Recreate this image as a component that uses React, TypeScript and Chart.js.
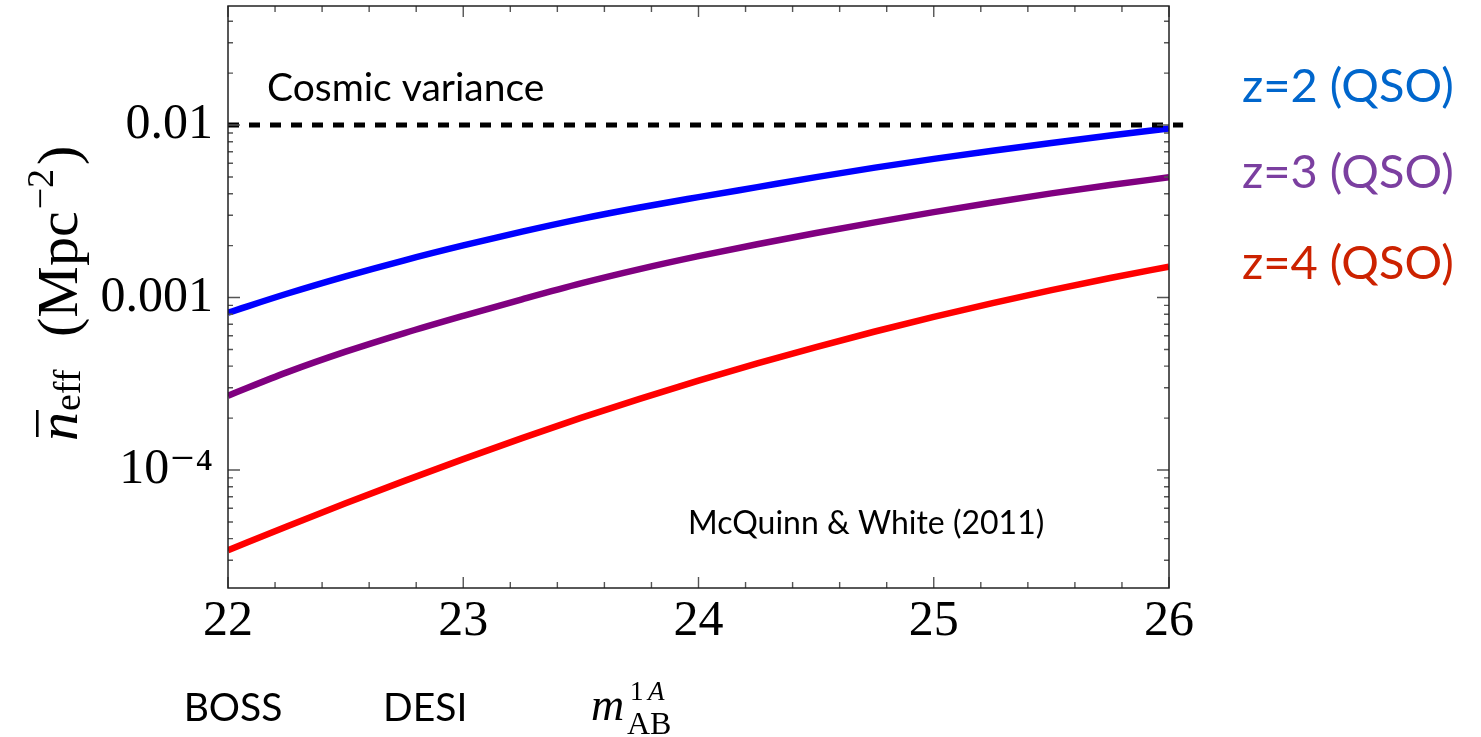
import React, { useEffect, useRef } from "react";
import { Chart, registerables } from "chart.js";

Chart.register(...registerables);

// ---------- data ----------
const magnitudes = [22, 22.25, 22.5, 22.75, 23, 23.25, 23.5, 23.75, 24, 24.25, 24.5, 24.75, 25, 25.25, 25.5, 25.75, 26];
const nEffZ2 = [8.17e-4, 1.052e-3, 1.327e-3, 1.644e-3, 2.004e-3, 2.41e-3, 2.858e-3, 3.327e-3, 3.819e-3, 4.365e-3, 4.989e-3, 5.662e-3, 6.368e-3, 7.096e-3, 7.87e-3, 8.69e-3, 9.55e-3];
const nEffZ3 = [2.698e-4, 3.681e-4, 4.853e-4, 6.223e-4, 7.834e-4, 9.772e-4, 1.208e-3, 1.462e-3, 1.738e-3, 2.037e-3, 2.366e-3, 2.729e-3, 3.126e-3, 3.556e-3, 4.018e-3, 4.487e-3, 4.977e-3];
const nEffZ4 = [3.428e-5, 4.71e-5, 6.412e-5, 8.65e-5, 1.156e-4, 1.531e-4, 2.004e-4, 2.588e-4, 3.296e-4, 4.15e-4, 5.164e-4, 6.353e-4, 7.727e-4, 9.29e-4, 1.104e-3, 1.297e-3, 1.51e-3];
const cosmicVarianceLevel = 0.01;
const cosmicVarianceRange = [22, 26.06];
const seriesNames = ["z=2 (QSO)", "z=3 (QSO)", "z=4 (QSO)"];
const surveyLabels = ["BOSS", "DESI"];

const xMin = 22;
const xMax = 26;
const yMin = 2.07e-5;
const yMax = 0.049;
const xMajorTicks = [22, 23, 24, 25, 26];
const xTickLabels = ["22", "23", "24", "25", "26"];
const xMinorStep = 0.2;
const yMajorTicks = [1e-4, 1e-3, 1e-2];
const yTickLabels = ["10\u207B\u2074", "0.001", "0.01"];

// ---------- styles ----------
const lineColors = ["#0000ff", "#800080", "#ff0000"];
const labelColors = ["#0066cc", "#7b3fa0", "#cc2200"];
const SERIF = '"Liberation Serif", "DejaVu Serif", serif';
const SANS = 'Lato, "Open Sans", sans-serif';

function buildXTicks(): { v: number; major: boolean }[] {
  const out: { v: number; major: boolean }[] = [];
  const n = Math.round((xMax - xMin) / xMinorStep);
  for (let i = 0; i <= n; i++) {
    const v = Number((xMin + i * xMinorStep).toFixed(4));
    out.push({ v, major: xMajorTicks.includes(v) });
  }
  return out;
}

function buildYTicks(): { v: number; major: boolean }[] {
  const out: { v: number; major: boolean }[] = [];
  for (let e = -6; e <= -1; e++) {
    for (let m = 1; m <= 9; m++) {
      const v = Number((m * Math.pow(10, e)).toPrecision(3));
      if (v >= yMin && v <= yMax) out.push({ v, major: m === 1 });
    }
  }
  return out;
}

const frameTicksPlugin = {
  id: "frameTicks",
  afterDraw(chart: any) {
    const ctx = chart.ctx as CanvasRenderingContext2D;
    const { left, right, top, bottom } = chart.chartArea;
    const xs = chart.scales.x;
    const ys = chart.scales.y;
    ctx.save();
    ctx.strokeStyle = "#555";
    ctx.lineWidth = 1.4;
    ctx.beginPath();
    for (const t of buildXTicks()) {
      const px = xs.getPixelForValue(t.v);
      const len = t.major ? 11 : 6;
      ctx.moveTo(px, bottom);
      ctx.lineTo(px, bottom - len);
      ctx.moveTo(px, top);
      ctx.lineTo(px, top + len);
    }
    for (const t of buildYTicks()) {
      const py = ys.getPixelForValue(t.v);
      const len = t.major ? 12 : 5;
      ctx.moveTo(left, py);
      ctx.lineTo(left + len, py);
      ctx.moveTo(right, py);
      ctx.lineTo(right - len, py);
    }
    ctx.stroke();
    ctx.strokeStyle = "#222";
    ctx.lineWidth = 1.5;
    ctx.strokeRect(left, top, right - left, bottom - top);
    ctx.restore();
  },
};

const annotationPlugin = {
  id: "annotations",
  afterDraw(chart: any) {
    const ctx = chart.ctx as CanvasRenderingContext2D;
    const xs = chart.scales.x;
    ctx.save();
    ctx.textBaseline = "alphabetic";
    ctx.textAlign = "left";

    // Cosmic variance label
    ctx.fillStyle = "#000";
    ctx.font = `39px ${SANS}`;
    ctx.fillText("Cosmic variance", 267, 101);

    // Reference
    ctx.font = `32px ${SANS}`;
    ctx.fillText("McQuinn & White (2011)", 688, 534);

    // Series labels
    const baselines = [102, 188, 279];
    ctx.font = `47px ${SANS}`;
    seriesNames.forEach((name, i) => {
      ctx.fillStyle = labelColors[i];
      ctx.fillText(name, 1242, baselines[i]);
    });

    // Survey labels under the axis
    ctx.fillStyle = "#000";
    ctx.font = `39px ${SANS}`;
    ctx.textAlign = "center";
    ctx.fillText(surveyLabels[0], xs.getPixelForValue(22.0) + 5, 721);
    ctx.fillText(surveyLabels[1], xs.getPixelForValue(23.0) - 38, 721);

    // x-axis title m_AB^{1A}
    ctx.textAlign = "left";
    ctx.font = `italic 46px ${SERIF}`;
    ctx.fillText("m", 591, 720);
    ctx.font = `32px ${SERIF}`;
    ctx.fillText("AB", 627, 734);
    ctx.font = `27px ${SERIF}`;
    ctx.fillText("1", 630, 700);
    ctx.font = `italic 27px ${SERIF}`;
    ctx.fillText("A", 648, 700);

    // y-axis title  n̄_eff (Mpc^-2)
    ctx.translate(77, 441);
    ctx.rotate(-Math.PI / 2);
    ctx.font = `italic 58px ${SERIF}`;
    ctx.fillText("n", 0, 0);
    const nW = ctx.measureText("n").width;
    ctx.fillRect(4, -41, nW - 2, 2.6);
    ctx.font = `38px ${SERIF}`;
    ctx.fillText("eff", nW + 1, 3);
    ctx.font = `58px ${SERIF}`;
    const startX = 104;
    ctx.fillText("(Mpc", startX, 0);
    const w1 = ctx.measureText("(Mpc").width;
    ctx.font = `38px ${SERIF}`;
    ctx.fillText("\u22122", startX + w1 + 2, -24);
    const w2 = ctx.measureText("\u22122").width;
    ctx.font = `58px ${SERIF}`;
    ctx.fillText(")", startX + w1 + w2 + 6, 0);
    ctx.restore();
  },
};

export default function App() {
  const canvasRef = useRef<HTMLCanvasElement | null>(null);

  useEffect(() => {
    document.body.style.margin = "0";
    const canvas = canvasRef.current;
    if (!canvas) return;

    const mk = (vals: number[]) => magnitudes.map((m, i) => ({ x: m, y: vals[i] }));

    const chart = new Chart(canvas, {
      type: "line",
      data: {
        datasets: [
          {
            label: "Cosmic variance",
            data: cosmicVarianceRange.map((x) => ({ x, y: cosmicVarianceLevel })),
            borderColor: "#000",
            borderWidth: 5,
            borderDash: [11, 10],
            pointRadius: 0,
            clip: false as any,
          },
          {
            label: seriesNames[0],
            data: mk(nEffZ2),
            borderColor: lineColors[0],
            borderWidth: 6.5,
            pointRadius: 0,
            cubicInterpolationMode: "monotone",
          },
          {
            label: seriesNames[1],
            data: mk(nEffZ3),
            borderColor: lineColors[1],
            borderWidth: 6.5,
            pointRadius: 0,
            cubicInterpolationMode: "monotone",
          },
          {
            label: seriesNames[2],
            data: mk(nEffZ4),
            borderColor: lineColors[2],
            borderWidth: 6.5,
            pointRadius: 0,
            cubicInterpolationMode: "monotone",
          },
        ],
      },
      options: {
        responsive: false,
        animation: false,
        devicePixelRatio: 1,
        layout: { padding: { top: 6, right: 312, left: 0, bottom: 0 } },
        plugins: {
          legend: { display: false },
          tooltip: { enabled: false },
        },
        scales: {
          x: {
            type: "linear",
            min: xMin,
            max: xMax,
            grid: { display: false, drawTicks: false },
            border: { display: false },
            afterBuildTicks: (scale: any) => {
              scale.ticks = xMajorTicks.map((v) => ({ value: v }));
            },
            afterFit: (scale: any) => {
              scale.height = 149;
            },
            ticks: {
              autoSkip: false,
              maxRotation: 0,
              padding: 4,
              color: "#000",
              font: { family: SERIF, size: 50 },
              callback: (v: any) => {
                const i = xMajorTicks.indexOf(Number(v));
                return i >= 0 ? xTickLabels[i] : "";
              },
            },
          },
          y: {
            type: "logarithmic",
            min: yMin,
            max: yMax,
            grid: { display: false, drawTicks: false },
            border: { display: false },
            afterBuildTicks: (scale: any) => {
              scale.ticks = yMajorTicks.map((v) => ({ value: v }));
            },
            afterFit: (scale: any) => {
              scale.width = 228;
              scale.paddingTop = 0;
              scale.paddingBottom = 0;
            },
            ticks: {
              autoSkip: false,
              padding: 15,
              color: "#000",
              font: { family: SERIF, size: 50 },
              callback: (v: any) => {
                const i = yMajorTicks.findIndex((t) => Math.abs(t - Number(v)) / t < 1e-6);
                return i >= 0 ? yTickLabels[i] : "";
              },
            },
          },
        },
      },
      plugins: [frameTicksPlugin, annotationPlugin],
    } as any);

    return () => {
      chart.destroy();
    };
  }, []);

  return (
    <div style={{ width: 1481, height: 737, background: "#fff" }}>
      <canvas ref={canvasRef} width={1481} height={737} style={{ display: "block" }} />
    </div>
  );
}
